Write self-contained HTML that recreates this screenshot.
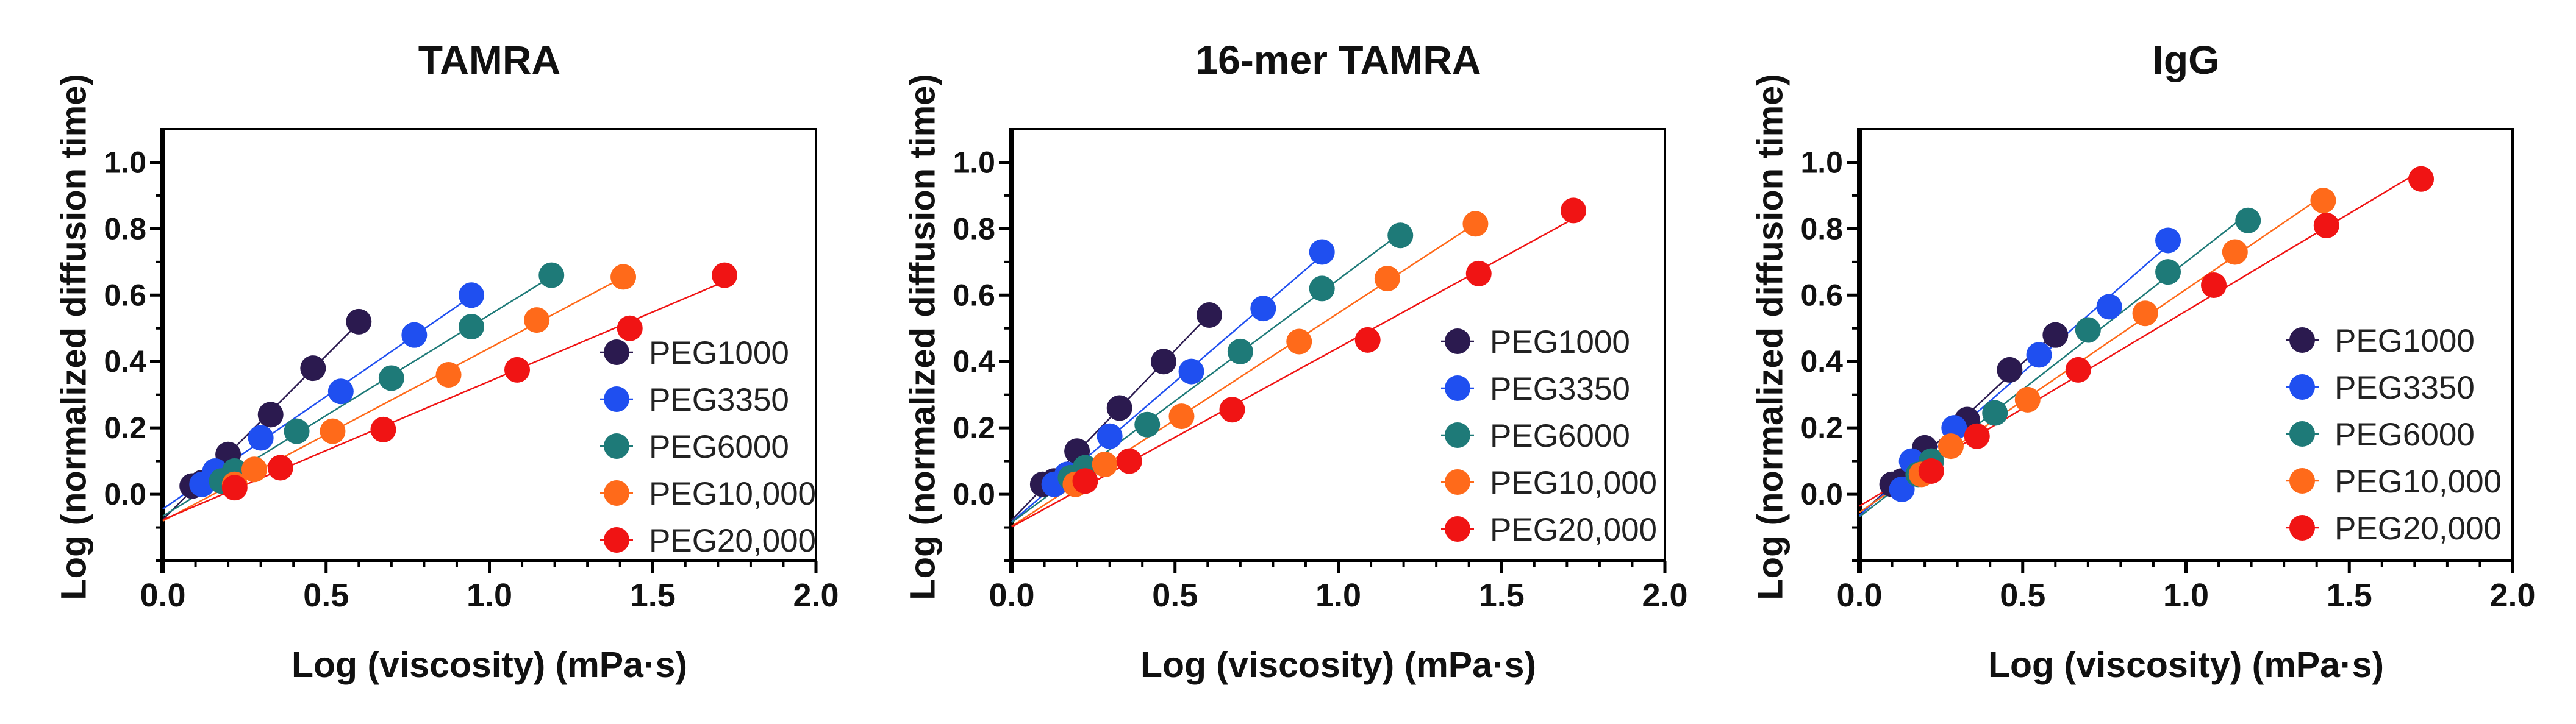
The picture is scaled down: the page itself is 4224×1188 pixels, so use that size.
<!DOCTYPE html>
<html><head><meta charset="utf-8">
<style>
html,body{margin:0;padding:0;background:#fff;}
svg{display:block;}
text{font-family:"Liberation Sans",Arial,sans-serif;}
</style></head>
<body>
<svg id="fig" width="4224" height="1188" viewBox="0 0 4224 1188" xmlns="http://www.w3.org/2000/svg"></svg>
<script>
// ---- data ----
const panelTitles = ["TAMRA", "16-mer TAMRA", "IgG"];
const seriesNames = ["PEG1000", "PEG3350", "PEG6000", "PEG10,000", "PEG20,000"];
const seriesColors = ["#2b1a4f", "#1f4ff0", "#1e7a78", "#ff6a1a", "#f01414"];
const xTicks = [0.0, 0.5, 1.0, 1.5, 2.0];
const xTickLabels = ["0.0", "0.5", "1.0", "1.5", "2.0"];
const yTicks = [0.0, 0.2, 0.4, 0.6, 0.8, 1.0];
const yTickLabels = ["0.0", "0.2", "0.4", "0.6", "0.8", "1.0"];

// TAMRA
const p1x_1000 = [0.09, 0.12, 0.20, 0.33, 0.46, 0.60];
const p1y_1000 = [0.025, 0.035, 0.12, 0.24, 0.38, 0.52];
const p1x_3350 = [0.12, 0.16, 0.30, 0.545, 0.77, 0.945];
const p1y_3350 = [0.03, 0.07, 0.17, 0.31, 0.48, 0.60];
const p1x_6000 = [0.18, 0.22, 0.41, 0.70, 0.945, 1.19];
const p1y_6000 = [0.04, 0.07, 0.19, 0.35, 0.505, 0.66];
const p1x_10k = [0.22, 0.28, 0.52, 0.875, 1.145, 1.41];
const p1y_10k = [0.03, 0.075, 0.19, 0.36, 0.525, 0.655];
const p1x_20k = [0.22, 0.36, 0.675, 1.085, 1.43, 1.72];
const p1y_20k = [0.02, 0.08, 0.195, 0.375, 0.50, 0.66];
// 16-mer TAMRA
const p2x_1000 = [0.095, 0.13, 0.20, 0.33, 0.465, 0.605];
const p2y_1000 = [0.03, 0.04, 0.13, 0.26, 0.40, 0.54];
const p2x_3350 = [0.13, 0.17, 0.30, 0.55, 0.77, 0.95];
const p2y_3350 = [0.03, 0.06, 0.175, 0.37, 0.56, 0.73];
const p2x_6000 = [0.18, 0.225, 0.415, 0.70, 0.95, 1.19];
const p2y_6000 = [0.05, 0.08, 0.21, 0.43, 0.62, 0.78];
const p2x_10k = [0.195, 0.285, 0.52, 0.88, 1.15, 1.42];
const p2y_10k = [0.03, 0.09, 0.235, 0.46, 0.65, 0.815];
const p2x_20k = [0.225, 0.36, 0.675, 1.09, 1.43, 1.72];
const p2y_20k = [0.04, 0.10, 0.255, 0.465, 0.665, 0.855];
// IgG
const p3x_1000 = [0.10, 0.13, 0.20, 0.33, 0.46, 0.60];
const p3y_1000 = [0.03, 0.04, 0.14, 0.225, 0.375, 0.48];
const p3x_3350 = [0.13, 0.16, 0.29, 0.55, 0.765, 0.945];
const p3y_3350 = [0.015, 0.10, 0.20, 0.42, 0.565, 0.765];
const p3x_6000 = [0.18, 0.22, 0.415, 0.70, 0.945, 1.19];
const p3y_6000 = [0.06, 0.10, 0.245, 0.495, 0.67, 0.825];
const p3x_10k = [0.19, 0.28, 0.515, 0.875, 1.15, 1.42];
const p3y_10k = [0.06, 0.145, 0.285, 0.545, 0.73, 0.885];
const p3x_20k = [0.22, 0.36, 0.67, 1.085, 1.43, 1.72];
const p3y_20k = [0.07, 0.175, 0.375, 0.63, 0.81, 0.95];

const panelX = [[p1x_1000,p1x_3350,p1x_6000,p1x_10k,p1x_20k],[p2x_1000,p2x_3350,p2x_6000,p2x_10k,p2x_20k],[p3x_1000,p3x_3350,p3x_6000,p3x_10k,p3x_20k]];
const panelY = [[p1y_1000,p1y_3350,p1y_6000,p1y_10k,p1y_20k],[p2y_1000,p2y_3350,p2y_6000,p2y_10k,p2y_20k],[p3y_1000,p3y_3350,p3y_6000,p3y_10k,p3y_20k]];

// ---- layout ----
const axLeft = [267, 1659, 3049];
const axW = 1071, axTop = 212, axBottom = 920;
const xMin = 0, xMax = 2, yMin = -0.2, yMax = 1.1;
const legendDy = [578, 560, 558];
const legendDx = [744, 731, 726];

const NS = "http://www.w3.org/2000/svg";
const svg = document.getElementById("fig");
function mk(tag, attrs, parent){
  const e = document.createElementNS(NS, tag);
  for (const k in attrs) e.setAttribute(k, attrs[k]);
  (parent||svg).appendChild(e);
  return e;
}
function fit(xs, ys){
  const n = xs.length; let sx=0,sy=0,sxx=0,sxy=0;
  for (let i=0;i<n;i++){sx+=xs[i];sy+=ys[i];sxx+=xs[i]*xs[i];sxy+=xs[i]*ys[i];}
  const m = (n*sxy-sx*sy)/(n*sxx-sx*sx);
  return {m:m, b:(sy-m*sx)/n};
}

for (let p=0;p<3;p++){
  const L = axLeft[p];
  const sx = v => L + (v - xMin)/(xMax - xMin)*axW;
  const sy = v => axBottom - (v - yMin)/(yMax - yMin)*(axBottom - axTop);
  const g = mk("g", {});
  
  

  const t = mk("text", {x: L + axW/2, y: 121, "text-anchor":"middle", "font-size":66, "font-weight":"bold", fill:"#111"}, g);
  t.textContent = panelTitles[p];
  
  

  // frame
  const fr = mk("rect", {x:L, y:axTop, width:axW, height:axBottom-axTop, fill:"none", stroke:"#000", "stroke-width":4}, g);
  
  
  const ya = mk("line", {x1:L, y1:axTop-2, x2:L, y2:axBottom+20, stroke:"#000", "stroke-width":8}, g);
  
  

  // x ticks
  for (let v=0; v<=20; v++){
    const xv = v/10; const major = v%5===0;
    const tk = mk("line", {x1:sx(xv), y1:axBottom, x2:sx(xv), y2:axBottom+(major?20:11), stroke:"#000", "stroke-width":major?5:4}, g);
    
    
  }
  xTicks.forEach((v,i)=>{
    const tl = mk("text", {x:sx(v), y:995, "text-anchor":"middle", "font-size":54, "font-weight":"bold", fill:"#111"}, g);
    tl.textContent = xTickLabels[i];
    
    
  });
  // y ticks
  for (let v=-2; v<=10; v++){
    const yv = v/10; const major = v>=0 && v%2===0;
    const tk = mk("line", {x1:L-(major?21:12), y1:sy(yv), x2:L, y2:sy(yv), stroke:"#000", "stroke-width":major?5:4}, g);
    
    
  }
  yTicks.forEach((v,i)=>{
    const tl = mk("text", {x:L-27, y:sy(v)+17, "text-anchor":"end", "font-size":50, "font-weight":"bold", fill:"#111"}, g);
    tl.textContent = yTickLabels[i];
    
    
  });
  // axis titles
  const xt = mk("text", {x:L+axW/2, y:1111, "text-anchor":"middle", "font-size":59, "font-weight":"bold", fill:"#111"}, g);
  xt.textContent = "Log (viscosity) (mPa·s)";
  
  
  const ytx = L - 146;
  const yt = mk("text", {x:ytx, y:553, transform:`rotate(-90 ${ytx} 553)`, "text-anchor":"middle", "dominant-baseline":"central", "font-size":58, "font-weight":"bold", fill:"#111"}, g);
  yt.textContent = "Log (normalized diffusion time)";
  
  

  // series
  for (let s=0;s<5;s++){
    const xs = panelX[p][s], ys = panelY[p][s];
    const f = fit(xs, ys);
    const xe = Math.max(...xs);
    const ln = mk("line", {x1:sx(0), y1:sy(f.b), x2:sx(xe), y2:sy(f.m*xe+f.b), stroke:seriesColors[s], "stroke-width":2.5}, g);
    
    
  }
  for (let s=0;s<5;s++){
    const xs = panelX[p][s], ys = panelY[p][s];
    for (let i=0;i<xs.length;i++){
      const c = mk("circle", {cx:sx(xs[i]), cy:sy(ys[i]), r:21, fill:seriesColors[s]}, g);
      
      
    }
  }
  // legend
  for (let s=0;s<5;s++){
    const ly = legendDy[p] + s*77;
    const lx = L + legendDx[p];
    const lg = mk("g", {}, g);
    
    
    mk("line", {x1:lx-27, y1:ly, x2:lx+27, y2:ly, stroke:seriesColors[s], "stroke-width":2.5}, lg);
    mk("circle", {cx:lx, cy:ly, r:21, fill:seriesColors[s]}, lg);
    const lt = mk("text", {x:lx+53, y:ly+19, "font-size":53, fill:"#222"}, lg);
    lt.textContent = seriesNames[s];
  }
}
</script>
</body></html>
